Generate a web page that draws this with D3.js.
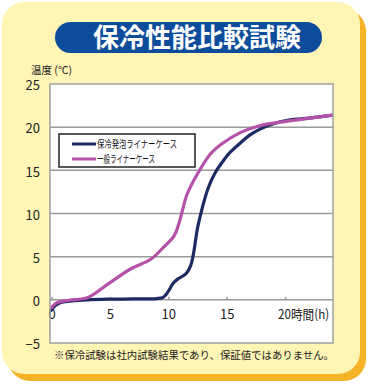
<!DOCTYPE html>
<html><head><meta charset="utf-8">
<script src="https://cdn.jsdelivr.net/npm/d3@7"></script>
<style>
html,body{margin:0;padding:0;background:#fff;}
svg{display:block;}
text{font-family:"Noto Sans CJK JP","Noto Sans",sans-serif;}
</style></head>
<body>
<script>
const title = "保冷性能比較試験";
const yAxisTitle = "温度 (℃)";
const footnote = "※保冷試験は社内試験結果であり、保証値ではありません。";
const seriesNames = ["保冷発泡ライナーケース", "一般ライナーケース"];
const yTicks = [-5, 0, 5, 10, 15, 20, 25];
const xTicks = [0, 5, 10, 15, 20];
const xTickLabels = ["0", "5", "10", "15", "20時間(h)"];

const foamHours  = [0, 0.3, 0.8, 1.5, 2, 3, 4.8, 7, 9, 9.5, 9.8, 10.1, 10.4, 10.8, 11.5, 11.9, 12.15, 12.5, 12.9, 13.4, 14.0, 14.6, 15.3, 16.2, 17.0, 17.9, 19.0, 20.2, 22.4, 24.1];
const foamTemps  = [-1.2, -0.7, -0.3, -0.15, -0.1, 0, 0.08, 0.1, 0.15, 0.25, 0.6, 1.2, 1.9, 2.4, 3.0, 3.9, 5.3, 8.3, 10.6, 12.9, 14.7, 15.9, 17.1, 18.2, 19.1, 19.8, 20.4, 20.8, 21.1, 21.4];
const plainHours = [0, 0.5, 1.5, 3.1, 4.8, 6.8, 8.5, 9.6, 10.5, 10.9, 11.2, 11.6, 12.5, 13.6, 14.5, 16.2, 17.9, 20.2, 22.4, 24.1];
const plainTemps = [-0.9, -0.3, -0.05, 0.27, 1.8, 3.6, 4.7, 6.1, 7.4, 8.8, 10.3, 12.2, 14.6, 16.9, 18.0, 19.4, 20.2, 20.7, 21.1, 21.4];
const colors = ["#1c2b62", "#b452a9"];

const W = 368, H = 384;
const svg = d3.select("body").append("svg").attr("width", W).attr("height", H);

// card with shadow
svg.append("rect").attr("x", 8).attr("y", 9).attr("width", 358).attr("height", 372).attr("rx", 22).attr("fill", "#f5b325");
svg.append("rect").attr("x", 2).attr("y", 2).attr("width", 358).attr("height", 372).attr("rx", 22).attr("fill", "#fff5b4");

// title pill
svg.append("rect").attr("x", 55).attr("y", 22).attr("width", 267).attr("height", 31).attr("rx", 15.5).attr("fill", "#0b4c9b");
svg.append("text").attr("x", 197).attr("y", 47).attr("text-anchor", "middle")
  .attr("font-size", 26).attr("font-weight", "bold").attr("fill", "#fff").text(title);

const pLeft = 50, pRight = 333, pTop = 84, pBottom = 343;
const x = d3.scaleLinear().domain([0, 24.1]).range([51.5, pRight]);
const y = d3.scaleLinear().domain([-5, 25]).range([pBottom, pTop]);

svg.append("rect").attr("x", pLeft).attr("y", pTop).attr("width", pRight - pLeft).attr("height", pBottom - pTop).attr("fill", "#fff");

// gridlines
svg.append("g").selectAll("line").data(yTicks.filter(d => d > -5 && d < 25)).join("line")
  .attr("x1", pLeft).attr("x2", pRight).attr("y1", d => y(d)).attr("y2", d => y(d))
  .attr("stroke", "#9a9a9a").attr("stroke-width", 1.5);

// y labels
const yAxis = d3.axisLeft(y).tickValues(yTicks).tickSize(0).tickPadding(10);
const gy = svg.append("g").attr("transform", `translate(${pLeft},1.5)`).call(yAxis);
gy.select(".domain").remove();
gy.selectAll("text").attr("font-size", 13).attr("fill", "#222").attr("font-family", "'Noto Sans','Noto Sans CJK JP',sans-serif");

// x axis at zero
const xAxis = d3.axisTop(x).tickValues(xTicks).tickSize(3).tickFormat((d, i) => xTickLabels[i]);
const gx = svg.append("g").attr("transform", `translate(0,${y(0)})`).call(xAxis);
gx.select(".domain").remove();
gx.selectAll("line").attr("stroke", "#9a9a9a").attr("stroke-width", 1.5);
gx.selectAll("text").attr("font-size", 13).attr("fill", "#222").attr("y", 19)
  .attr("font-family", "'Noto Sans','Noto Sans CJK JP',sans-serif");
gx.selectAll(".tick").filter(d => d === 20).select("text").attr("text-anchor", "start").attr("dx", -7.5)
  .attr("textLength", 51).attr("lengthAdjust", "spacingAndGlyphs");

// clip
svg.append("clipPath").attr("id", "clip").append("rect").attr("x", pLeft).attr("y", pTop).attr("width", pRight - pLeft).attr("height", pBottom - pTop);

const line = d3.line().x(d => x(d[0])).y(d => y(d[1])).curve(d3.curveCatmullRom.alpha(0.5));
const series = [d3.zip(foamHours, foamTemps), d3.zip(plainHours, plainTemps)];
svg.append("g").attr("clip-path", "url(#clip)").selectAll("path").data(series).join("path")
  .attr("d", line).attr("fill", "none").attr("stroke", (d, i) => colors[i]).attr("stroke-width", 3.2)
  .attr("stroke-linejoin", "round").attr("stroke-linecap", "round");

// plot border
svg.append("rect").attr("x", pLeft).attr("y", pTop).attr("width", pRight - pLeft).attr("height", pBottom - pTop)
  .attr("fill", "none").attr("stroke", "#a0a0a0").attr("stroke-width", 1.5);

// legend
const lg = svg.append("g");
lg.append("rect").attr("x", 59).attr("y", 134).attr("width", 136).attr("height", 33)
  .attr("fill", "#fff").attr("stroke", "#222").attr("stroke-width", 1.5);
const legLen = [80, 58];
seriesNames.forEach((n, i) => {
  const yy = 144 + i * 15;
  lg.append("line").attr("x1", 72).attr("x2", 96).attr("y1", yy).attr("y2", yy)
    .attr("stroke", colors[i]).attr("stroke-width", 3);
  lg.append("text").attr("x", 97).attr("y", yy + 3.8).attr("font-size", 10.5).attr("fill", "#111")
    .attr("textLength", legLen[i]).attr("lengthAdjust", "spacingAndGlyphs").text(n);
});

// y title
svg.append("text").attr("x", 31).attr("y", 74).attr("font-size", 10.5).attr("fill", "#222").text(yAxisTitle);

// footnote
svg.append("text").attr("x", 54).attr("y", 359).attr("font-size", 10.5).attr("fill", "#222")
  .attr("textLength", 280).attr("lengthAdjust", "spacingAndGlyphs").text(footnote);
</script>
</body></html>
